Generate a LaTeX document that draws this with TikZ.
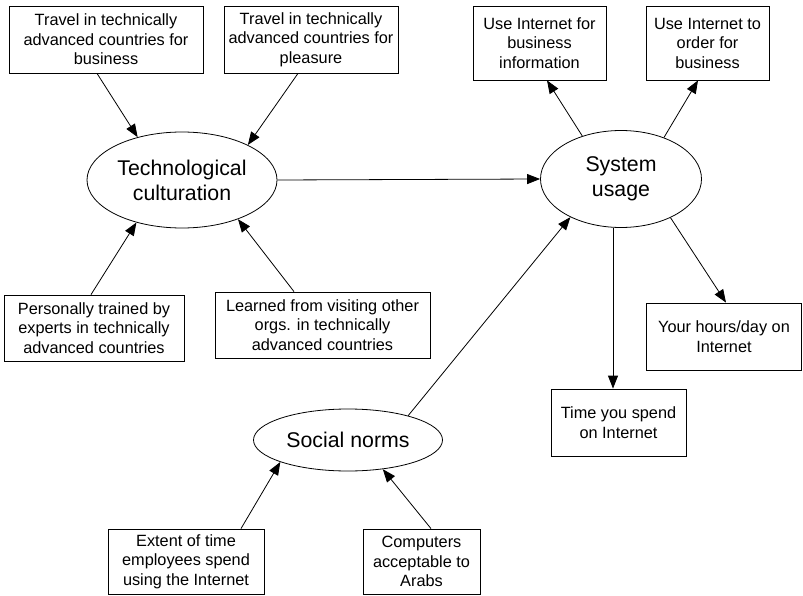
\documentclass[tikz,border=0pt]{standalone}
\usepackage{fontspec}
\setmainfont{Liberation Sans}
\usetikzlibrary{arrows.meta,shapes.geometric}
\begin{document}
\begin{tikzpicture}[x=1pt,y=-1pt,
  box/.style={draw,line width=0.8pt,rectangle,inner sep=0pt,align=center,
    font=\fontsize{16.3}{19.5}\selectfont},
  construct/.style={draw,line width=0.8pt,ellipse,inner sep=0pt,align=center,
    font=\fontsize{21.3}{25}\selectfont},
  link/.style={line width=0.8pt,-{Triangle[length=13pt,width=10pt]}}]
\useasboundingbox (0,0) rectangle (803,596);

% latent constructs
\node[construct,minimum width=190pt,minimum height=96pt] (tech) at (182,180)
  {Technological\\culturation};
\node[construct,minimum width=161pt,minimum height=97pt] (sys) at (621,179)
  {System\\usage};
\node[construct,minimum width=189pt,minimum height=62pt] (soc) at (348,440)
  {Social norms};

% indicator boxes
\node[box,minimum width=194pt,minimum height=67pt] (b1) at (106,39.5)
  {Travel in technically\\advanced countries for\\business};
\node[box,minimum width=174pt,minimum height=67pt] (b2) at (311,39.5)
  {Travel in technically\\advanced countries for\\pleasure};
\node[box,minimum width=133pt,minimum height=74pt] (b3) at (539.5,43)
  {Use Internet for\\business\\information};
\node[box,minimum width=123pt,minimum height=74pt] (b4) at (707.5,43)
  {Use Internet to\\order for\\business};
\node[box,minimum width=180pt,minimum height=66pt] (b5) at (94,328)
  {Personally trained by\\experts in technically\\advanced countries};
\node[box,minimum width=215pt,minimum height=66pt] (b6) at (322.5,325)
  {Learned from visiting other\\orgs. in technically\\advanced countries};
\node[box,minimum width=155pt,minimum height=67pt] (b7) at (724,336.5)
  {Your hours/day on\\Internet};
\node[box,minimum width=135pt,minimum height=67pt] (b8) at (618.5,422.5)
  {Time you spend\\on Internet};
\node[box,minimum width=156pt,minimum height=65pt] (b9) at (186,561.5)
  {Extent of time\\employees spend\\using the Internet};
\node[box,minimum width=117pt,minimum height=65pt] (b10) at (421.5,561.5)
  {Computers\\acceptable to\\Arabs};

% connectors
\draw[link] ([xshift=-9pt]b1.south) -- (tech.136);
\draw[link] ([xshift=-13pt]b2.south) -- (tech.28);
\draw[link] ([xshift=-3pt]b5.north) -- (tech.223);
\draw[link] ([xshift=-28.5pt]b6.north) -- (tech.-35);
\draw[link] (tech.east) -- (sys.west);
\draw[link] (sys.132) -- ([xshift=7.5pt]b3.south);
\draw[link] (sys.44) -- ([xshift=-9.5pt]b4.south);
\draw[link] ([xshift=-8pt]sys.south) -- ([xshift=-8pt]sys.south |- b8.north);
\draw[link] (sys.-38) -- ([xshift=2pt]b7.north);
\draw[link] (soc.22) -- (sys.217);
\draw[link] ([xshift=55pt]b9.north) -- (soc.198);
\draw[link] ([xshift=9.5pt]b10.north) -- (soc.-40);
\end{tikzpicture}
\end{document}
